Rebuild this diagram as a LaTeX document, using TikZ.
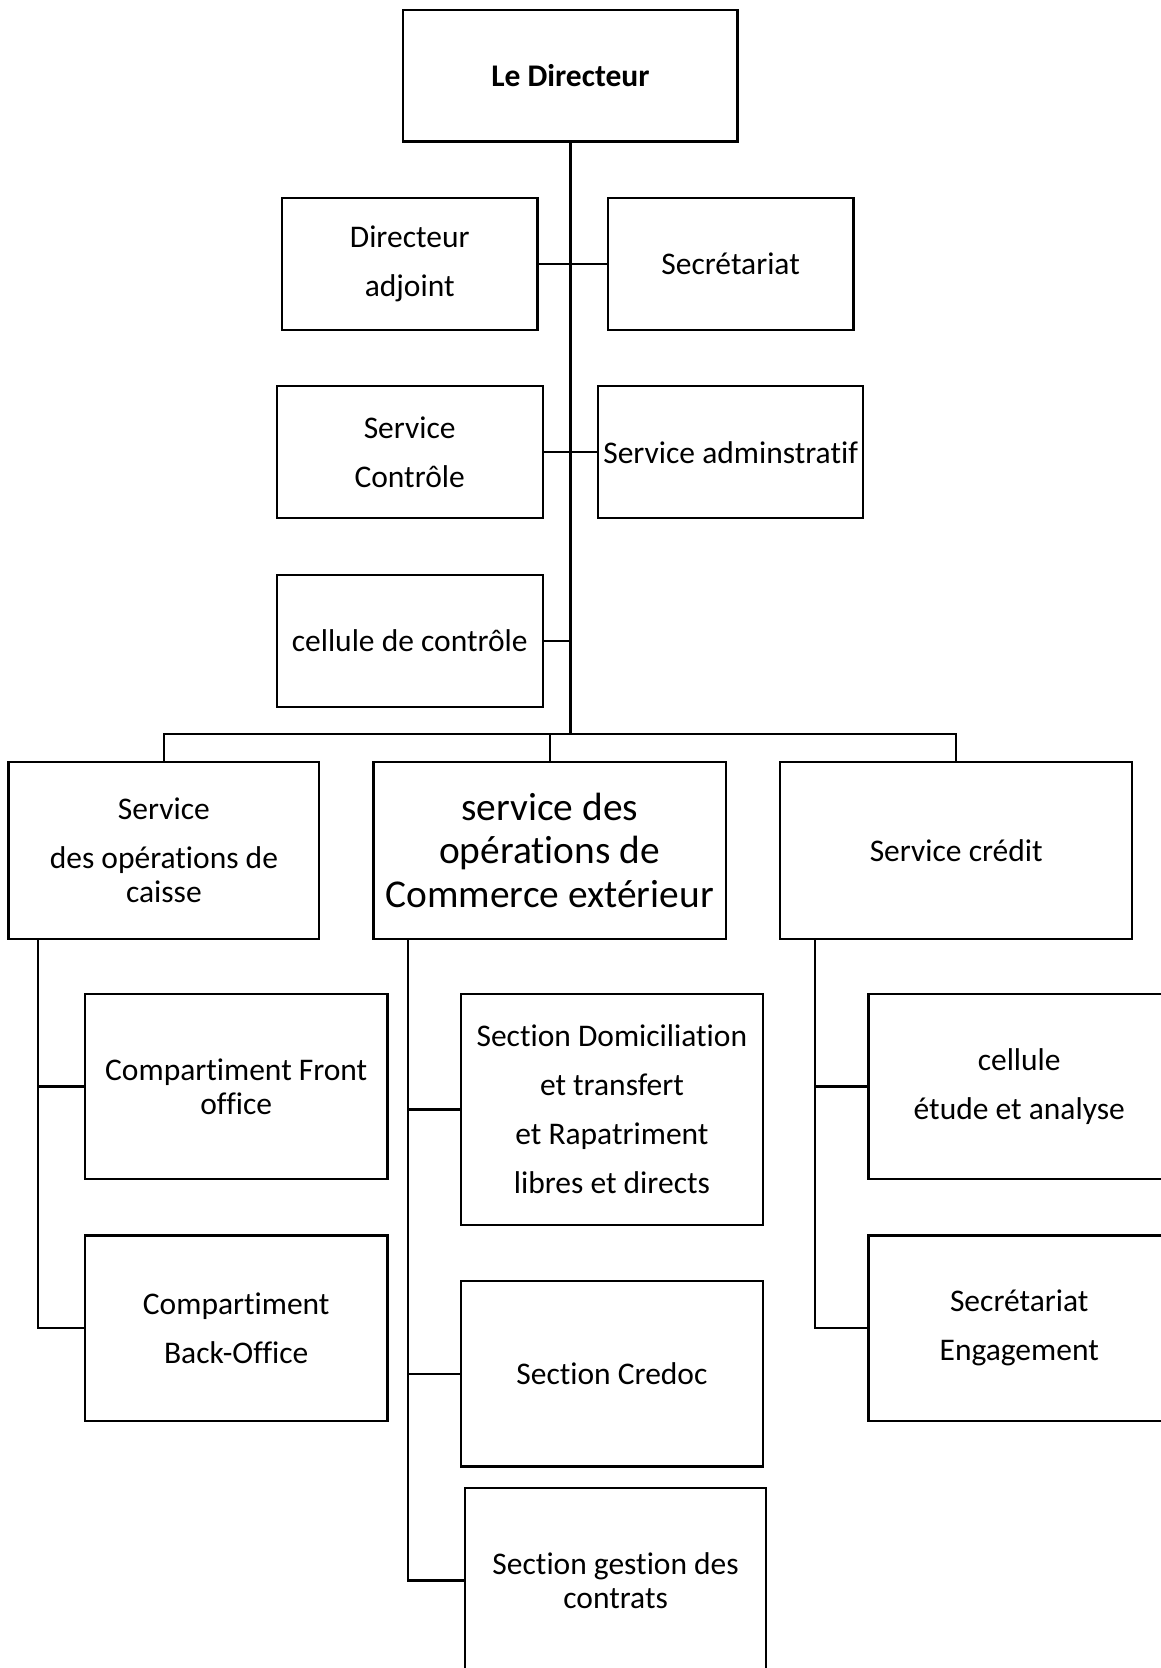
\documentclass[tikz,border=0pt]{standalone}
\usepackage{fontspec}
\setmainfont{Carlito}[Ligatures={NoCommon}]
\begin{document}
\begin{tikzpicture}[x=1pt,y=-1pt,
  box/.style={draw, line width=2.2pt, inner sep=0pt, align=center, font=\fontsize{31.5}{34}\selectfont},
  big/.style={font=\fontsize{39.4}{43.6}\selectfont},
  conn/.style={line width=2.2pt}]
\clip (0,0) rectangle (1161,1668);
\fill[white] (0,0) rectangle (1161,1668);
% level 0
\node[box, minimum width=334.2pt, minimum height=131.9pt] (dir) at (570.4,75.55) {\textbf{Le Directeur}};
% staff
\node[box, minimum width=255.4pt, minimum height=132pt] (adj) at (409.7,263.9) {Directeur\\[15pt]adjoint};
\node[box, minimum width=245.8pt, minimum height=132pt] (sec) at (730.6,263.9) {Secrétariat};
\node[box, minimum width=266pt, minimum height=132pt] (ctrl) at (409.7,452.3) {Service\\[15pt]Contrôle};
\node[box, minimum width=265pt, minimum height=132pt] (adm) at (730.6,452.3) {Service adminstratif};
\node[box, minimum width=266pt, minimum height=131.9pt] (cell) at (409.7,640.65) {cellule de contrôle};
% services
\node[box, minimum width=310.8pt, minimum height=176.6pt] (caisse) at (163.9,850.3) {Service\\[15pt]des opérations de\\caisse};
\node[box, big, minimum width=352.3pt, minimum height=176.6pt] (commerce) at (549.65,850.3) {service des\\opérations de\\Commerce extérieur};
\node[box, minimum width=352.2pt, minimum height=176.6pt] (credit) at (956.2,850.3) {Service crédit};
% sections
\node[box, minimum width=302.3pt, minimum height=185.1pt] (front) at (236.25,1086.55) {Compartiment Front\\office};
\node[box, minimum width=302.3pt, minimum height=185.2pt] (back) at (236.25,1328.1) {Compartiment\\[15pt]Back-Office};
\node[box, minimum width=302.2pt, minimum height=230.9pt] (dom) at (611.9,1109.45) {Section Domiciliation\\[15pt]et transfert\\[15pt]et Rapatriment\\[15pt]libres et directs};
\node[box, minimum width=302.2pt, minimum height=185.2pt] (credoc) at (611.9,1373.9) {Section Credoc};
\node[box, minimum width=301.1pt, minimum height=185.2pt] (gest) at (615.65,1580.4) {Section gestion des\\contrats};
\node[box, minimum width=301.6pt, minimum height=185.1pt] (etude) at (1019.2,1086.55) {cellule\\[15pt]étude et analyse};
\node[box, minimum width=301.6pt, minimum height=185.2pt] (eng) at (1019.2,1328.1) {Secrétariat\\[15pt]Engagement};
% connectors
\coordinate (bar) at (570.4,734.3);
\draw[conn] (dir.south) -- (bar);
\draw[conn] (adj.east) -- (sec.west);
\draw[conn] (ctrl.east) -- (adm.west);
\draw[conn] (cell.east) -- (cell.east -| dir.south);
\draw[conn] (caisse.north) |- (bar) -| (credit.north);
\draw[conn] (commerce.north) -- (commerce.north |- bar);
\coordinate (lt) at ([xshift=30.9pt]caisse.south west);
\coordinate (mt) at ([xshift=35.2pt]commerce.south west);
\coordinate (rt) at ([xshift=36.1pt]credit.south west);
\draw[conn] (lt) |- (front.west);
\draw[conn] (lt) |- (back.west);
\draw[conn] (mt) |- (dom.west);
\draw[conn] (mt) |- (credoc.west);
\draw[conn] (mt) |- (gest.west);
\draw[conn] (rt) |- (etude.west);
\draw[conn] (rt) |- (eng.west);
\end{tikzpicture}
\end{document}
